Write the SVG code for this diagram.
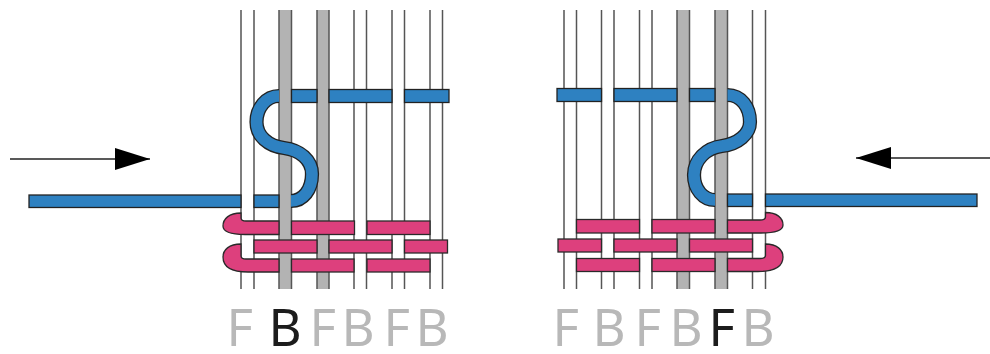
<svg xmlns="http://www.w3.org/2000/svg" width="990" height="354" viewBox="0 0 990 354">
<style>
.w{fill:none;stroke:#555;stroke-width:1.5}
.gf{fill:#b3b3b3}
.b{fill:#2e81c1;stroke:#222;stroke-width:1.3}
.p{fill:#dd3f7d;stroke:#2a2a2a;stroke-width:1.3}
.so{fill:none;stroke:#222;stroke-width:14.2}
.si{fill:none;stroke:#2e81c1;stroke-width:11.6}
.l{font-family:"Noto Sans",sans-serif;font-size:51px;font-weight:400;fill:#b8b8b8}
.k{fill:#1a1a1a}
.a{fill:none;stroke:#222;stroke-width:1.3;marker-end:url(#head)}
</style>
<defs>
<marker id="head" markerUnits="userSpaceOnUse" markerWidth="36" markerHeight="24" refX="35" refY="11" orient="auto"><path d="M0 0L35 11L0 22Z" fill="#000"/></marker>
<filter id="soft" filterUnits="userSpaceOnUse" x="0" y="0" width="990" height="354"><feGaussianBlur stdDeviation="0.45"/></filter>
</defs>
<g filter="url(#soft)">
<g id="warps-left">
<rect class="gf" x="279" y="10" width="12.500" height="279"/>
<rect class="gf" x="317" y="10" width="12" height="279"/>
<path class="w" d="M241 10V289M254 10V289M279 10V289M291.500 10V289M317 10V289M329 10V289M354 10V289M366.500 10V289M392 10V289M404.500 10V289M430 10V289M442.500 10V289"/>
</g>
<g id="warps-right">
<rect class="gf" x="677" y="10" width="12.500" height="279"/>
<rect class="gf" x="715" y="10" width="12.500" height="279"/>
<path class="w" d="M564 10V289M576.500 10V289M601.500 10V289M614 10V289M639.500 10V289M652 10V289M677 10V289M689.500 10V289M715 10V289M727.500 10V289M752.500 10V289M765.500 10V289"/>
</g>
<g id="weft-blue-left">
<path class="so" d="M279 96C266 96 256.500 108 256.500 122C256.500 136 268 146 284 148C300 150 312 160 312 174C312 190 303 201 291 201"/>
<path class="si" d="M279 96C266 96 256.500 108 256.500 122C256.500 136 268 146 284 148C300 150 312 160 312 174C312 190 303 201 291 201"/>
<rect class="b" x="291.500" y="89.500" width="25.500" height="13"/>
<rect class="b" x="329" y="89.500" width="63" height="13"/>
<rect class="b" x="404.500" y="89.500" width="44.500" height="13"/>
<rect class="b" x="29" y="195" width="212" height="12.500"/>
<rect class="b" x="254" y="195" width="25" height="12.500"/>
</g>
<g id="weft-blue-right">
<path class="so" d="M727.500 95C741 95 750 107 750 122C750 134 738 144 722 146C706 148 694 160 694 175C694 189 703 200 715 200"/>
<path class="si" d="M727.500 95C741 95 750 107 750 122C750 134 738 144 722 146C706 148 694 160 694 175C694 189 703 200 715 200"/>
<rect class="b" x="557" y="88.500" width="44.500" height="13"/>
<rect class="b" x="614" y="88.500" width="63" height="13"/>
<rect class="b" x="689.500" y="88.500" width="25.500" height="13"/>
<rect class="b" x="727.500" y="194" width="25" height="12.500"/>
<rect class="b" x="765.500" y="194" width="211.500" height="12.500"/>
</g>
<g id="weft-pink-left">
<path class="p" d="M241 213C229 213 223 219 223 226C223 232 231 234.500 245 234.500H279V221H246C243 221 241 220.500 241 218Z"/>
<rect class="p" x="291.500" y="221" width="63" height="13.500"/>
<rect class="p" x="367" y="221" width="63" height="13.500"/>
<rect class="p" x="254" y="240" width="63" height="13"/>
<rect class="p" x="329" y="240" width="63" height="13"/>
<rect class="p" x="404.500" y="240" width="43" height="13"/>
<path class="p" d="M241 244C229 244 223 250 223 257C223 267 231 272 248 272H279V259H246C243 259 241 258.500 241 256Z"/>
<rect class="p" x="291.500" y="259" width="62.500" height="13"/>
<rect class="p" x="367" y="259" width="63" height="13"/>
</g>
<g id="weft-pink-right">
<rect class="p" x="576.500" y="219.500" width="63" height="13.500"/>
<rect class="p" x="652" y="219.500" width="63" height="13.500"/>
<path class="p" d="M765.500 212.500C777 212.500 783 218 783 225C783 231 775 233 761 233H727.500V220H760C763 220 765.500 219.500 765.500 217Z"/>
<rect class="p" x="558" y="239" width="43.500" height="13"/>
<rect class="p" x="614" y="239" width="63" height="13"/>
<rect class="p" x="689.500" y="239" width="63" height="13"/>
<rect class="p" x="576.500" y="258.500" width="63" height="13"/>
<rect class="p" x="652" y="258.500" width="63" height="13"/>
<path class="p" d="M765.500 244C777 244 783 250 783 257C783 266 775 271.500 758 271.500H727.500V258.500H760C763 258.500 765.500 258 765.500 255.500Z"/>
</g>
<g id="connectors">
<path class="a" d="M10 159H150"/>
<path class="a" d="M990 158H856"/>
</g>
<g id="labels-left">
<text class="l" x="226.500" y="346">F</text>
<text class="l k" x="268.500" y="346">B</text>
<text class="l" x="309.500" y="346">F</text>
<text class="l" x="341.500" y="346">B</text>
<text class="l" x="383.500" y="346">F</text>
<text class="l" x="415.500" y="346">B</text>
</g>
<g id="labels-right">
<text class="l" x="552.500" y="346">F</text>
<text class="l" x="592.500" y="346">B</text>
<text class="l" x="634.500" y="346">F</text>
<text class="l" x="669.500" y="346">B</text>
<text class="l k" x="708.500" y="346">F</text>
<text class="l" x="741.500" y="346">B</text>
</g>
</g>
</svg>
